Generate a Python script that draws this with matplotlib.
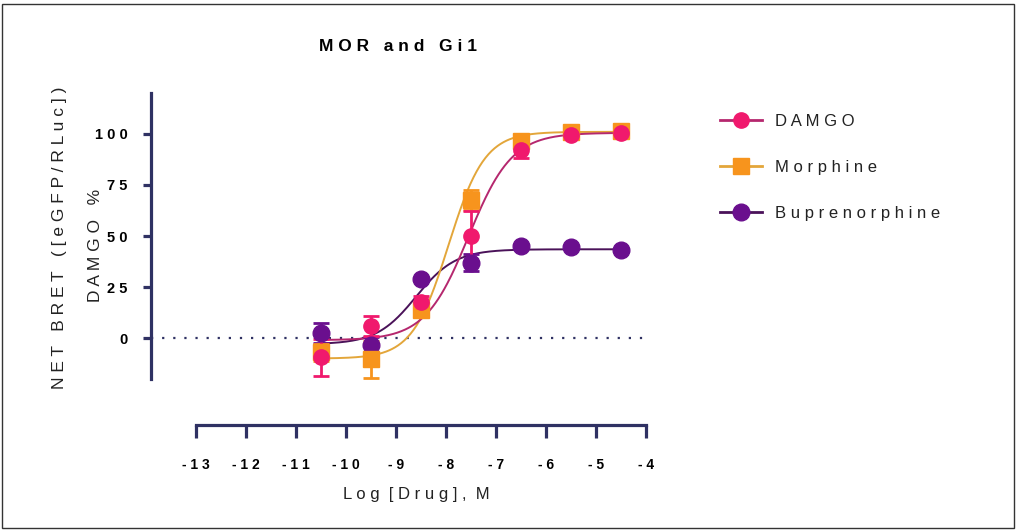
import matplotlib
matplotlib.use('Agg')
import matplotlib.pyplot as plt
import numpy as np
from matplotlib.lines import Line2D
from matplotlib.patches import Rectangle

plt.rcParams['font.family'] = ['Liberation Sans', 'DejaVu Sans']

# data
log_dose = [-10.5, -9.5, -8.5, -7.5, -6.5, -5.5, -4.5]
damgo = [-9.3, 5.9, 17.6, 50.0, 92.0, 99.3, 100.4]
damgo_err = [9, 5, 3, 12, 4, 1, 1]
morphine = [-7.0, -10.3, 13.7, 67.6, 96.5, 101.0, 101.5]
morphine_err = [4, 9, 2, 5, 1, 1, 1]
bupre = [2.4, -3.4, 28.9, 37.0, 45.2, 44.7, 43.3]
bupre_err = [5, 4, 1, 4, 1, 1, 1]

# fitted curve parameters: bottom, top, logEC50, hill
damgo_fit = [-1.0, 100.5, -7.55, 1.0]
morphine_fit = [-10.0, 101.0, -7.95, 1.2]
bupre_fit = [-3.0, 43.5, -8.6, 1.1]

x_ticks = [-13, -12, -11, -10, -9, -8, -7, -6, -5, -4]
y_ticks = [0, 25, 50, 75, 100]

axis_col = '#2f3163'


def spaced(s):
    return ' '.join(s)


def logistic(x, p):
    bottom, top, ec50, hill = p
    return bottom + (top - bottom) / (1 + 10 ** ((ec50 - x) * hill))


W, H = 1017, 532
fig = plt.figure(figsize=(W / 100, H / 100), dpi=100)
ax = fig.add_axes([151 / W, (H - 379) / H, (646 - 151) / W, (379 - 93) / H])

ax.set_xlim(-13.9, -4)
ax.set_ylim(-20, 120)

series = [
    ('Buprenorphine', bupre, bupre_err, bupre_fit, '#6a0f8e', '#4a1259', 'o', 12),
    ('Morphine', morphine, morphine_err, morphine_fit, '#f7941d', '#e3a63a', 's', 11),
    ('DAMGO', damgo, damgo_err, damgo_fit, '#f0196d', '#b5276e', 'o', 11),
]

xs = np.linspace(-10.5, -4.5, 300)
for name, vals, err, fit, mcol, lcol, mk, ms in series:
    ax.plot(xs, logistic(xs, fit), color=lcol, lw=1.4, zorder=2)
    ax.errorbar(log_dose, vals, yerr=err, fmt=mk, color=mcol, ms=ms,
                ecolor=mcol, elinewidth=2, capsize=6, capthick=2, zorder=3)

ax.axhline(0, color=axis_col, ls=(0, (1, 4)), lw=1.6, zorder=1)

for side in ['top', 'right']:
    ax.spines[side].set_visible(False)
ax.spines['left'].set_color(axis_col)
ax.spines['left'].set_linewidth(2.3)
ax.spines['bottom'].set_color(axis_col)
ax.spines['bottom'].set_linewidth(2.3)
ax.spines['bottom'].set_bounds(-13, -4)
ax.spines['bottom'].set_position(('outward', 33))

ax.set_xticks(x_ticks)
ax.set_xticklabels([spaced(str(v)) for v in x_ticks], fontsize=10, fontweight='bold')
ax.set_yticks(y_ticks)
ax.set_yticklabels([spaced(str(v)) for v in y_ticks], fontsize=10.5, fontweight='bold')
ax.tick_params(axis='x', direction='out', length=9, width=2.3, color=axis_col, pad=15)
ax.tick_params(axis='y', direction='out', length=6, width=2.3, color=axis_col, pad=11)

ax.set_title(spaced('MOR and Gi1'), fontsize=12.5, fontweight='bold', pad=30)

fig.text(416 / W, 1 - 495 / H, spaced('Log [Drug], M').replace('   ', '  '),
         fontsize=12, ha='center', va='center', color='#222222')
fig.text(60 / W, 1 - 238 / H, spaced('NET BRET ([eGFP/RLuc])'),
         fontsize=12.5, rotation=90, ha='center', va='center', color='#222222')
fig.text(95 / W, 1 - 245 / H, spaced('DAMGO %'),
         fontsize=12.5, rotation=90, ha='center', va='center', color='#222222')

handles = []
for name, vals, err, fit, mcol, lcol, mk, ms in reversed(series):
    handles.append(Line2D([], [], color=lcol, lw=2, marker=mk, ms=ms,
                          markerfacecolor=mcol, markeredgecolor=mcol,
                          label=spaced(name)))
fig.legend(handles=handles, loc='upper left', bbox_to_anchor=(705 / W, 1 - 99 / H),
           frameon=False, fontsize=12, handlelength=2.5, handletextpad=0.8,
           labelspacing=1.85, labelcolor='#222222')

fig.patches.append(Rectangle((2 / W, 4 / H), 1012 / W, 524 / H, transform=fig.transFigure,
                             fill=False, edgecolor='#333333', lw=1))

fig.savefig('out.png', dpi=100)
